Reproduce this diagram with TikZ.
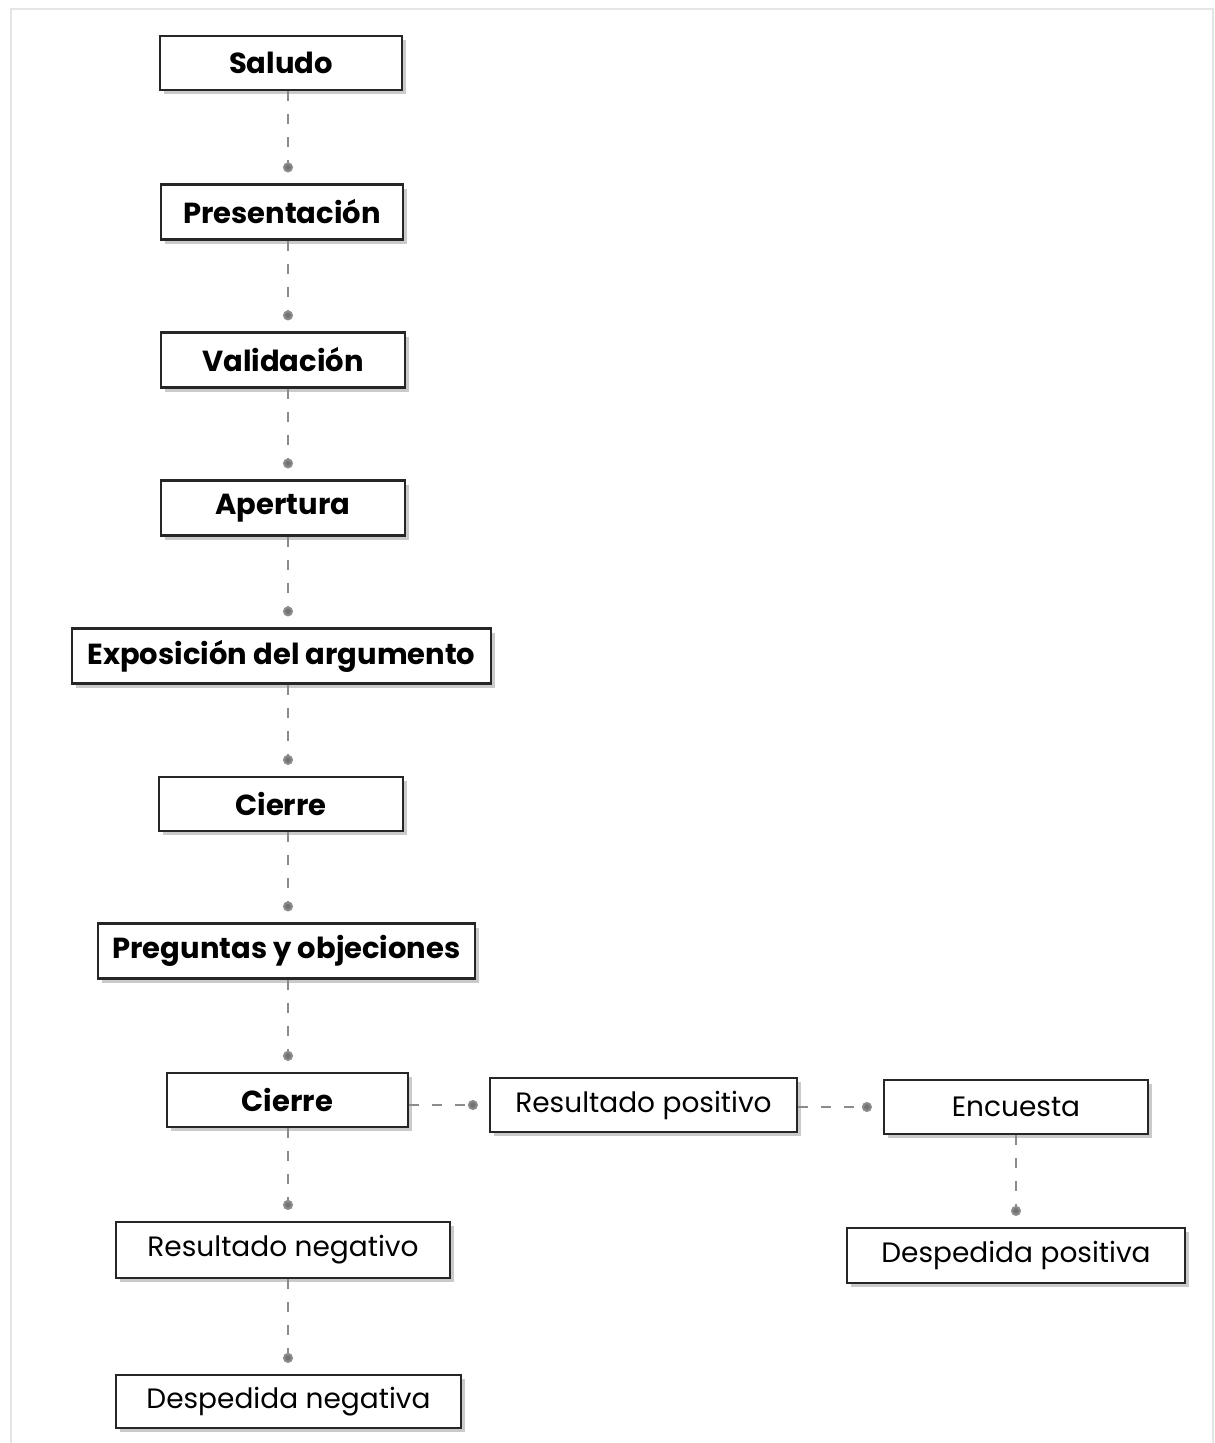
\documentclass[tikz,border=0pt]{standalone}
\usepackage{fontspec}
\setmainfont{Poppins}
\usetikzlibrary{arrows.meta,shadows,calc}
\begin{document}
\begin{tikzpicture}[x=1pt,y=-1pt,
 box/.style={draw=black!85,line width=2.2pt,fill=white,inner sep=0pt,
   drop shadow={shadow xshift=4pt,shadow yshift=-4pt,opacity=0.35,fill=black!60}},
 bbox/.style={box,font=\fontsize{29}{33}\selectfont\bfseries},
 rbox/.style={box,font=\fontsize{28}{32}\selectfont},
 conn/.style={draw=black!45,line width=2pt,dash pattern=on 10pt off 13pt,
   -{Circle[length=10pt,fill=black!55]},shorten >=11pt}]
\useasboundingbox (0,0) rectangle (1215,1443);
\draw[black!10,line width=2pt] (11,9) rectangle (1213,1450);
\coordinate (spine) at (288,0);
\node[bbox,minimum width=242pt,minimum height=54pt] (saludo) at (281,63) {Saludo};
\node[bbox,minimum width=242pt,minimum height=55pt] (pres) at (282,212) {Presentación};
\node[bbox,minimum width=244pt,minimum height=55pt] (valid) at (283,360) {Validación};
\node[bbox,minimum width=244pt,minimum height=55pt] (apert) at (283,508) {Apertura};
\node[bbox,minimum width=419pt,minimum height=55pt] (expo) at (281.5,656) {Exposición del argumento};
\node[bbox,minimum width=244pt,minimum height=54pt] (cierreA) at (281,804) {Cierre};
\node[bbox,minimum width=377pt,minimum height=55pt] (preg) at (286.5,951) {Preguntas y objeciones};
\node[bbox,minimum width=241pt,minimum height=54pt] (cierreB) at (287.5,1100) {Cierre};
\node[rbox,minimum width=307pt,minimum height=54pt] (rpos) at (643.5,1105) {Resultado positivo};
\node[rbox,minimum width=264pt,minimum height=54pt] (enc) at (1016,1107) {Encuesta};
\node[rbox,minimum width=338pt,minimum height=55pt] (dpos) at (1016,1255.5) {Despedida positiva};
\node[rbox,minimum width=334pt,minimum height=56pt] (rneg) at (283,1250) {Resultado negativo};
\node[rbox,minimum width=345pt,minimum height=53pt] (dneg) at (288.5,1401.5) {Despedida negativa};
\draw[conn] (saludo.south -| spine) -- (pres.north -| spine);
\draw[conn] (pres.south -| spine) -- (valid.north -| spine);
\draw[conn] (valid.south -| spine) -- (apert.north -| spine);
\draw[conn] (apert.south -| spine) -- (expo.north -| spine);
\draw[conn] (expo.south -| spine) -- (cierreA.north -| spine);
\draw[conn] (cierreA.south -| spine) -- (preg.north -| spine);
\draw[conn] (preg.south -| spine) -- (cierreB.north -| spine);
\draw[conn] (cierreB.south -| spine) -- (rneg.north -| spine);
\draw[conn] (rneg.south -| spine) -- (dneg.north -| spine);
\draw[conn] (cierreB.east |- rpos.west) -- (rpos.west);
\draw[conn] (rpos.east |- enc.west) -- (enc.west);
\draw[conn] (enc.south) -- (dpos.north);
\end{tikzpicture}
\end{document}
